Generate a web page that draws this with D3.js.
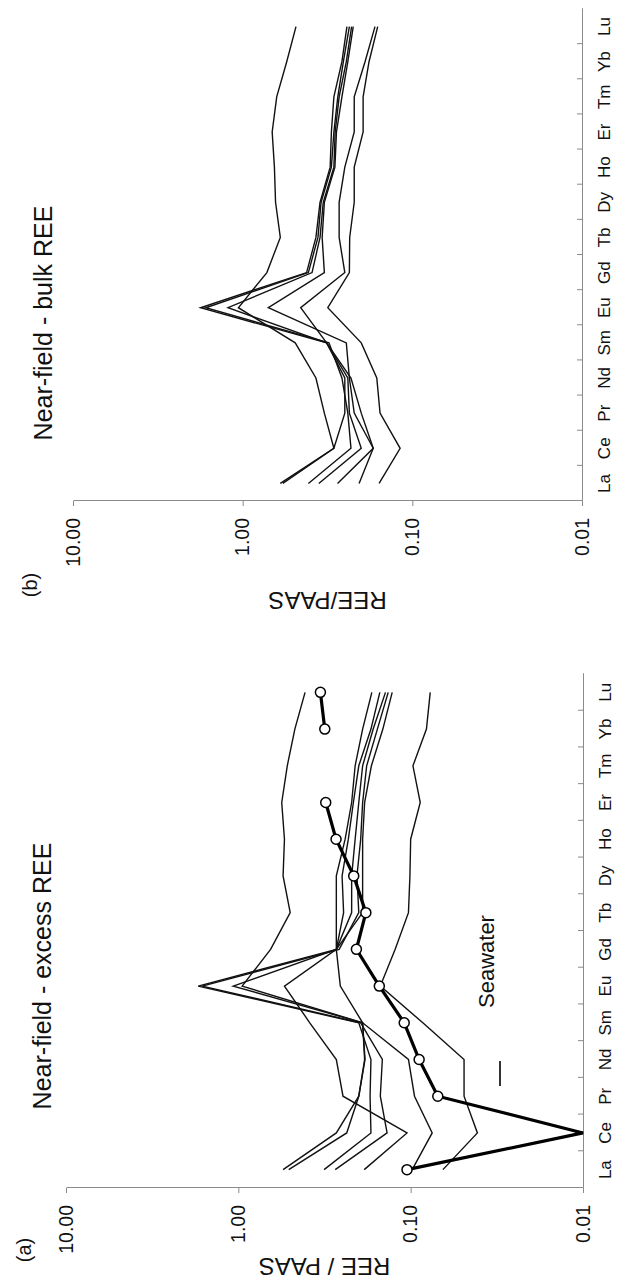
<!DOCTYPE html>
<html lang="en">
<head>
    <meta charset="UTF-8">
    <title>REE / PAAS</title>
    <script src="https://cdn.jsdelivr.net/npm/d3@7"></script>
    <style>
        body { margin: 0; background: #fff; }
        text { font-family: "Liberation Sans", Arial, Helvetica, sans-serif; fill: #111; }
    </style>
</head>
<body>
    <svg width="617" height="1288" id="mainsvg"></svg>
    <script>
        // rare earth elements, x categories
        const elements = ['La', 'Ce', 'Pr', 'Nd', 'Sm', 'Eu', 'Gd', 'Tb', 'Dy', 'Ho', 'Er', 'Tm', 'Yb', 'Lu'];
        const valueTicks = [10, 1, 0.1, 0.01];

        // (a) near-field excess REE, one array per sample
        const excessA = [0.55, 0.27, 0.20, 0.185, 0.19, 0.95, 0.65, 0.50, 0.55, 0.54, 0.56, 0.52, 0.47, 0.41];
        const excessB = [0.51, 0.235, 0.20, 0.184, 0.19, 0.256, 0.27, 0.27, 0.27, 0.24, 0.22, 0.21, 0.19, 0.168];
        const excessC = [0.318, 0.17, 0.172, 0.17, 0.20, 1.71, 0.27, 0.22, 0.22, 0.21, 0.20, 0.19, 0.165, 0.14];
        const excessD = [0.274, 0.137, 0.15, 0.146, 0.195, 1.62, 0.26, 0.20, 0.205, 0.195, 0.19, 0.18, 0.156, 0.135];
        const excessE = [0.186, 0.105, 0.247, 0.27, 0.385, 0.54, 0.27, 0.245, 0.25, 0.23, 0.215, 0.20, 0.17, 0.151];
        const excessF = [0.098, 0.075, 0.095, 0.103, 0.19, 1.07, 0.27, 0.19, 0.19, 0.19, 0.185, 0.169, 0.145, 0.128];
        const excessG = [0.065, 0.041, 0.049, 0.049, 0.085, 0.15, 0.123, 0.103, 0.101, 0.10, 0.088, 0.097, 0.081, 0.077];
        // seawater, Tm not measured
        const seawater = [0.105, 0.01, 0.0696, 0.0893, 0.109, 0.152, 0.2065, 0.182, 0.214, 0.271, 0.311, null, 0.315, 0.334];

        // (b) near-field bulk REE
        const bulkA = [0.60, 0.29, 0.33, 0.37, 0.49, 1.06, 0.72, 0.60, 0.64, 0.65, 0.67, 0.63, 0.55, 0.485];
        const bulkB = [0.58, 0.29, 0.25, 0.25, 0.32, 1.77, 0.42, 0.37, 0.35, 0.305, 0.30, 0.29, 0.26, 0.243];
        const bulkC = [0.41, 0.23, 0.24, 0.26, 0.31, 1.65, 0.41, 0.36, 0.345, 0.30, 0.29, 0.275, 0.255, 0.235];
        const bulkD = [0.356, 0.20, 0.235, 0.24, 0.32, 1.22, 0.39, 0.35, 0.335, 0.29, 0.285, 0.27, 0.245, 0.228];
        const bulkE = [0.276, 0.17, 0.22, 0.235, 0.245, 0.706, 0.33, 0.34, 0.33, 0.286, 0.28, 0.26, 0.24, 0.223];
        const bulkF = [0.206, 0.17, 0.20, 0.23, 0.32, 0.455, 0.25, 0.27, 0.27, 0.25, 0.22, 0.22, 0.19, 0.166];
        const bulkG = [0.157, 0.118, 0.155, 0.162, 0.20, 0.315, 0.235, 0.234, 0.22, 0.22, 0.195, 0.195, 0.18, 0.16];

        const excessSamples = [excessA, excessB, excessC, excessD, excessE, excessF, excessG];
        const bulkSamples = [bulkA, bulkB, bulkC, bulkD, bulkE, bulkF, bulkG];

        const svg = d3.select('#mainsvg');
        svg.append('rect').attr('width', 617).attr('height', 1288).attr('fill', '#fff');

        // the figure is printed turned a quarter to the left, so each panel is
        // drawn upright in its own group and then rotated -90
        const panels = [
            {left: 73, bottom: 501, width: 492, height: 509, samples: bulkSamples, seawater: null,
             title: 'Near-field - bulk REE', titleX: 178, titleY: -21,
             tag: '(b)', tagX: -84, tagY: -36, yTitle: 'REE/PAAS', yTitleX: -99},
            {left: 66, bottom: 1188, width: 514, height: 517, samples: excessSamples, seawater: seawater,
             title: 'Near-field - excess REE', titleX: 212, titleY: -15,
             tag: '(a)', tagX: -62, tagY: -35, yTitle: 'REE / PAAS', yTitleX: -78}
        ];

        const drawPanel = p => {
            const g = svg.append('g')
                .attr('transform', `translate(${p.left}, ${p.bottom}) rotate(-90)`);

            const xScale = d3.scaleBand().domain(elements).range([0, p.width]);
            const xEdge = d3.scaleLinear().domain([0, elements.length]).range([0, p.width]);
            const yScale = d3.scaleLog().domain([0.01, 10]).range([p.height, 0]);
            const cx = (d, i) => xScale(elements[i]) + xScale.bandwidth() / 2;

            // value axis
            const yAxisGroup = g.append('g')
                .call(d3.axisLeft(yScale).tickValues(valueTicks).tickFormat(d3.format('.2f'))
                    .tickSize(5).tickSizeOuter(0).tickPadding(12));
            yAxisGroup.selectAll('text').attr('font-size', '19.5px');

            // element axis: labels in the bands, small ticks on the band edges
            const xAxisGroup = g.append('g').attr('transform', `translate(0, ${p.height})`)
                .call(d3.axisBottom(xScale).tickSize(0).tickPadding(16));
            xAxisGroup.selectAll('text').attr('font-size', '17px');
            g.append('g').attr('transform', `translate(0, ${p.height})`)
                .call(d3.axisBottom(xEdge).tickValues(d3.range(1, elements.length))
                    .tickFormat('').tickSize(-5).tickSizeOuter(0));

            g.selectAll('.domain').attr('stroke', '#8a8a8a').attr('stroke-width', 1);
            g.selectAll('.tick line').attr('stroke', '#8a8a8a').attr('stroke-width', 1);
            g.selectAll('.tick text').attr('fill', '#111');

            // samples
            const line = d3.line().defined(d => d != null).x(cx).y(d => yScale(d));
            g.selectAll('.sample').data(p.samples).join('path')
                .attr('class', 'sample')
                .attr('d', line)
                .attr('fill', 'none').attr('stroke', '#111').attr('stroke-width', 1.4)
                .attr('stroke-linejoin', 'miter');

            if (p.seawater) {
                g.append('path').datum(p.seawater)
                    .attr('d', line)
                    .attr('fill', 'none').attr('stroke', '#000').attr('stroke-width', 3.2);
                const pts = p.seawater.map((v, i) => ({v, i})).filter(d => d.v != null && d.v > 0.011);
                g.selectAll('.sw').data(pts).join('circle')
                    .attr('class', 'sw')
                    .attr('cx', d => cx(d.v, d.i)).attr('cy', d => yScale(d.v))
                    .attr('r', 5).attr('fill', '#fff').attr('stroke', '#000').attr('stroke-width', 1.5);

                // legend
                g.append('line').attr('x1', 102).attr('x2', 127).attr('y1', 434).attr('y2', 434)
                    .attr('stroke', '#000').attr('stroke-width', 1.6);
                g.append('text').attr('x', 180).attr('y', 428).attr('font-size', '22px').text('Seawater');
            }

            // titles
            g.append('text').attr('x', p.titleX).attr('y', p.titleY)
                .attr('text-anchor', 'middle').attr('font-size', '25px').text(p.title);
            g.append('text').attr('x', p.tagX).attr('y', p.tagY)
                .attr('text-anchor', 'middle').attr('font-size', '20px').text(p.tag);
            g.append('text')
                .attr('transform', `translate(${p.yTitleX}, ${p.height / 2}) rotate(-90)`)
                .attr('text-anchor', 'middle').attr('dominant-baseline', 'central')
                .attr('font-size', '24px').text(p.yTitle);
        };

        panels.forEach(drawPanel);
    </script>
</body>
</html>
